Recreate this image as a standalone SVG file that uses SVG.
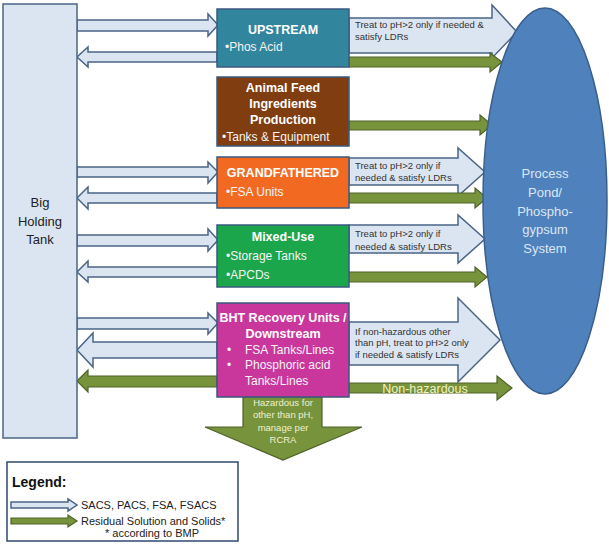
<svg xmlns="http://www.w3.org/2000/svg" width="609" height="546" viewBox="0 0 609 546">
<style>
text{font-family:"Liberation Sans","Open Sans",Arial,sans-serif}
.ba{fill:#dbe5f1;stroke:#4a6585;stroke-width:1.5;stroke-linejoin:miter}
.ga{fill:#77933c;stroke:#4f6228;stroke-width:1.2}
.box{stroke:#3a5a80;stroke-width:1.5}
.hd{font-size:12.5px;font-weight:bold;fill:#ffffff;text-anchor:middle}
.it{font-size:12px;fill:#f4f4f4}
.lb{font-size:9.5px;fill:#333333}
.el{font-size:13px;fill:#dce6f2;text-anchor:middle}
</style>
<rect width="609" height="546" fill="#ffffff"/>
<g id="connectors">
<polygon class="ba" points="77,20 208,20 208,14 218,25 208,36 208,31 77,31"/>
<polygon class="ba" points="217,52 88,52 88,47 77,57 88,67 88,62 217,62"/>
<polygon class="ba" points="77,167 208,167 208,162 218,172 208,183 208,177 77,177"/>
<polygon class="ba" points="217,193 88,193 88,187 77,198 88,209 88,203 217,203"/>
<polygon class="ba" points="77,235 208,235 208,229 218,240 208,251 208,246 77,246"/>
<polygon class="ba" points="217,267 88,267 88,261 77,272 88,282 88,277 217,277"/>
<polygon class="ba" points="77,318 208,318 208,313 218,323 208,334 208,329 77,329"/>
<polygon class="ba" points="217,342 93,342 93,333 77,350 93,367 93,358 217,358"/>
<polygon class="ga" points="217,376 88,376 88,370 77,381 88,392 88,387 217,387"/>
<polygon class="ba" points="349,18 492,18 492,5 517,32 492,58 492,53 349,53"/>
<polygon class="ga" points="349,57 490,57 490,53 502,62 490,72 490,67 349,67"/>
<polygon class="ga" points="349,121 480,121 480,115 492,125 480,135 480,130 349,130"/>
<polygon class="ba" points="349,158 458,158 458,148 485,172 458,196 458,185 349,185"/>
<polygon class="ga" points="349,193 475,193 475,188 487,198 475,208 475,203 349,203"/>
<polygon class="ba" points="349,225 458,225 458,215 485,239 458,263 458,253 349,253"/>
<polygon class="ga" points="349,272 475,272 475,267 487,277 475,287 475,282 349,282"/>
<polygon class="ba" points="349,322 458,322 458,298 500,340 458,382 458,365 349,365"/>
<polygon class="ga" points="349,383 497,383 497,376 512,388 497,400 497,393 349,393"/>
<polygon class="ga" points="243,397 322,397 322,427 362,427 283,460 205,427 243,427"/>
<text class="lb" x="355" y="28">Treat to pH&gt;2 only  if needed  &amp;</text>
<text class="lb" x="355" y="40">satisfy LDRs</text>
<text class="lb" x="355" y="169">Treat to pH&gt;2 only  if</text>
<text class="lb" x="355" y="181">needed  &amp; satisfy LDRs</text>
<text class="lb" x="355" y="237">Treat to pH&gt;2 only  if</text>
<text class="lb" x="355" y="250">needed  &amp; satisfy LDRs</text>
<text class="lb" x="355" y="335">If non-hazardous other</text>
<text class="lb" x="355" y="346">than pH, treat to pH&gt;2 only</text>
<text class="lb" x="355" y="358">if needed &amp; satisfy  LDRs</text>
<text x="425" y="392.5" font-size="12.5" fill="#f2f2c0" text-anchor="middle">Non-hazardous</text>
<g font-size="9.5" fill="#f0f0d0" text-anchor="middle">
<text x="283" y="406">Hazardous for</text>
<text x="283" y="418">other than pH,</text>
<text x="283" y="431">manage per</text>
<text x="283" y="443">RCRA</text>
</g>
</g>
<g id="tank">
<rect x="3" y="4" width="74" height="434" fill="#dbe5f1" stroke="#4a6585" stroke-width="1.5"/>
<g font-size="13" fill="#222222" text-anchor="middle">
<text x="40" y="207">Big</text>
<text x="40" y="226">Holding</text>
<text x="40" y="244">Tank</text>
</g>
</g>
<g id="pond">
<ellipse cx="545" cy="201" rx="62" ry="193" fill="#4f81bd" stroke="#3a5f8a" stroke-width="1.5"/>
<text class="el" x="545" y="178">Process</text>
<text class="el" x="545" y="197">Pond/</text>
<text class="el" x="545" y="216">Phospho-</text>
<text class="el" x="545" y="234">gypsum</text>
<text class="el" x="545" y="253">System</text>
</g>
<g id="upstream">
<rect class="box" x="217" y="9" width="132" height="58" fill="#31859c"/>
<text class="hd" x="283" y="34">UPSTREAM</text>
<text class="it" x="225" y="51">•Phos Acid</text>
</g>
<g id="animalfeed">
<rect class="box" x="217" y="77" width="132" height="69" fill="#7f3d10"/>
<text class="hd" x="283" y="92">Animal Feed</text>
<text class="hd" x="283" y="108">Ingredients</text>
<text class="hd" x="283" y="124">Production</text>
<text class="it" x="222" y="141">•Tanks &amp; Equipment</text>
</g>
<g id="grandfathered">
<rect class="box" x="217" y="157" width="132" height="51" fill="#f26a22"/>
<text class="hd" x="283" y="177">GRANDFATHERED</text>
<text class="it" x="226" y="196" fill="#fde5cc">•FSA Units</text>
</g>
<g id="mixeduse">
<rect class="box" x="217" y="225" width="132" height="62" fill="#1ca64c"/>
<text class="hd" x="283" y="241">Mixed-Use</text>
<text class="it" x="226" y="260" fill="#dff5e4">•Storage Tanks</text>
<text class="it" x="226" y="279" fill="#dff5e4">•APCDs</text>
</g>
<g id="bht">
<rect class="box" x="217" y="303" width="132" height="94" fill="#c9379d"/>
<text class="hd" x="283" y="322" font-size="11.5">BHT Recovery Units /</text>
<text class="hd" x="283" y="338" font-size="11.5">Downstream</text>
<g class="it" fill="#f8d6ee">
<text x="227" y="354">•</text><text x="245" y="354">FSA Tanks/Lines</text>
<text x="227" y="369">•</text><text x="245" y="369">Phosphoric acid</text>
<text x="245" y="385">Tanks/Lines</text>
</g>
</g>
<g id="legend">
<rect x="7" y="462" width="231" height="79" fill="#ffffff" stroke="#2f4a70" stroke-width="1.5"/>
<text x="12" y="487" font-size="14" font-weight="bold" fill="#111111">Legend:</text>
<polygon class="ba" stroke-width="1.2" points="11,502 68,502 68,499 77,505 68,511 68,508 11,508"/>
<polygon class="ga" points="11,518 68,518 68,515 77,521 68,527 68,524 11,524"/>
<text x="81" y="509" font-size="11" fill="#222222">SACS, PACS, FSA, FSACS</text>
<text x="81" y="525" font-size="11" fill="#222222">Residual Solution and Solids*</text>
<text x="152" y="537" font-size="11" fill="#222222" text-anchor="middle">* according to BMP</text>
</g>
</svg>
